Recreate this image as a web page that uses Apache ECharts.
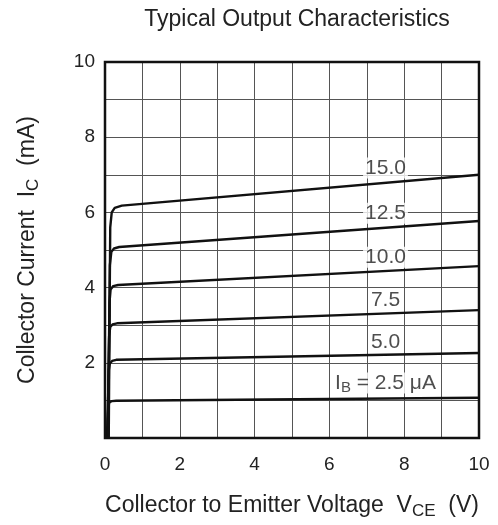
<!DOCTYPE html>
<html><head><meta charset="utf-8">
<script src="https://cdn.jsdelivr.net/npm/echarts@6/dist/echarts.min.js"></script>
<style>html,body{margin:0;padding:0;background:#fff}#c{width:498px;height:525px}</style>
</head><body><div id="c"></div>
<script>
// Curves: Collector current (mA) vs Vce (V), per base current
var curveNames = ['2.5', '5.0', '7.5', '10.0', '12.5', '15.0'];
var curve25  = [[0.05,0],[0.07,0.5],[0.09,0.85],[0.12,0.95],[0.18,0.98],[0.3,0.99],[10,1.07]];
var curve50  = [[0.06,0],[0.08,1.0],[0.1,1.8],[0.13,1.98],[0.19,2.05],[0.3,2.08],[10,2.26]];
var curve75  = [[0.07,0],[0.09,1.5],[0.11,2.7],[0.14,2.95],[0.2,3.02],[0.32,3.05],[10,3.40]];
var curve100 = [[0.08,0],[0.1,2.0],[0.12,3.6],[0.15,3.95],[0.22,4.04],[0.35,4.07],[10,4.57]];
var curve125 = [[0.09,0],[0.11,2.5],[0.13,4.6],[0.17,4.95],[0.24,5.04],[0.38,5.08],[10,5.77]];
var curve150 = [[0.1,0],[0.12,3.0],[0.14,5.6],[0.18,6.0],[0.26,6.12],[0.45,6.18],[10,7.0]];
var curves = [curve25, curve50, curve75, curve100, curve125, curve150];

// Curve labels: [x, y, text]
var labelPos = [[7.5,1.46,'{n|I}{sub|B}{n| = 2.5 μA}'],[7.5,2.55,'{n|5.0}'],[7.5,3.67,'{n|7.5}'],[7.5,4.81,'{n|10.0}'],[7.5,5.98,'{n|12.5}'],[7.5,7.18,'{n|15.0}']];

var xTicks = ['0','2','4','6','8','10'];
var yTicks = ['2','4','6','8','10'];

var F = 'Liberation Sans, Arial, sans-serif';
var C = '#222';
var chart = echarts.init(document.getElementById('c'));
var series = curves.map(function(d, i){
  return {type:'line', name:curveNames[i], data:d, showSymbol:false, symbol:'none',
    lineStyle:{color:'#111', width:2.4}, z:3, animation:false};
});
series.push({type:'scatter', data:labelPos, symbolSize:0, z:5, animation:false,
  label:{show:true, position:'inside', formatter:function(p){return p.data[2];},
    backgroundColor:'#fff', padding:[0,2,0,2],
    rich:{n:{fontFamily:F,fontSize:21,color:C,lineHeight:21}, sub:{fontFamily:F,fontSize:15,color:C,lineHeight:21,padding:[9,0,0,0]}}}});
chart.setOption({
  animation:false,
  title:{text:'Typical Output Characteristics', left:292, textAlign:'center', top:3,
    textStyle:{fontFamily:F, fontSize:23, fontWeight:'normal', color:C}},
  grid:{left:105, right:19, top:62, bottom:87, show:true, borderColor:'#111', borderWidth:2.5, backgroundColor:'transparent', z:4},
  xAxis:{type:'value', min:0, max:10, interval:1,
    name:'{n|Collector to Emitter Voltage  V}{sub|CE}{n|  (V)}', nameLocation:'middle', nameGap:54,
    nameTextStyle:{rich:{n:{fontFamily:F,fontSize:23,color:C}, sub:{fontFamily:F,fontSize:17,color:C,padding:[11,0,0,0]}}},
    axisLine:{show:false}, axisTick:{show:false},
    axisLabel:{margin:17, fontFamily:F, fontSize:19, color:C, formatter:function(v){return xTicks.indexOf(String(v))>=0?String(v):'';}},
    splitLine:{show:true, lineStyle:{color:'#555', width:1}}},
  yAxis:{type:'value', min:0, max:10, interval:1,
    name:'{n|Collector Current  I}{sub|C}{n|  (mA)}', nameLocation:'middle', nameGap:63,
    nameTextStyle:{rich:{n:{fontFamily:F,fontSize:23,color:C}, sub:{fontFamily:F,fontSize:17,color:C,padding:[11,0,0,0]}}},
    axisLine:{show:false}, axisTick:{show:false},
    axisLabel:{margin:10, fontFamily:F, fontSize:19, color:C, formatter:function(v){return yTicks.indexOf(String(v))>=0?String(v):'';}},
    splitLine:{show:true, lineStyle:{color:'#555', width:1}}},
  series:series
});
</script></body></html>
